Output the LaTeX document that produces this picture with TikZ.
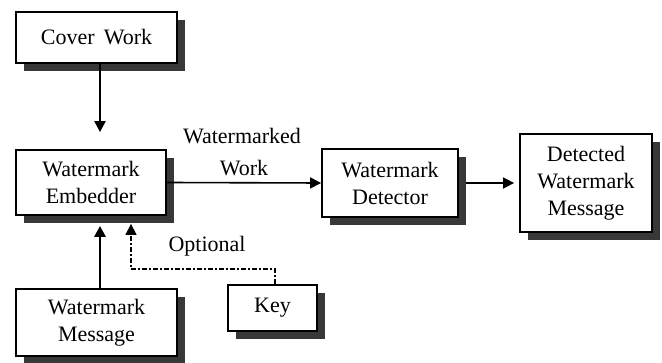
\documentclass[tikz,border=0pt]{standalone}
\usepackage{fontspec}
\setmainfont{Liberation Serif}
\usetikzlibrary{arrows.meta,shadows}
\begin{document}
\begin{tikzpicture}[x=1pt,y=-1pt,
  box/.style={draw=black, line width=1.8pt, fill=white, align=center,
    inner sep=0pt, font=\fontsize{22}{27}\selectfont,
    drop shadow={shadow xshift=8pt, shadow yshift=-8pt, fill=black!78, opacity=1}},
  arr/.style={-{Triangle[length=11pt,width=11pt]}, line width=1.6pt},
  thickarr/.style={-{Triangle[length=11pt,width=11pt]}, line width=2.8pt},
  lbl/.style={font=\fontsize{22}{27}\selectfont, inner sep=0pt}
]
\useasboundingbox (0,0) rectangle (662,363);
\node[box, minimum width=161pt, minimum height=51pt] (cover) at (96.5,37.5) {Cover\, Work};
\node[box, minimum width=150pt, minimum height=65pt] (embed) at (91,182.5) {Watermark\\Embedder};
\node[box, minimum width=136pt, minimum height=68pt] (det) at (390,183) {Watermark\\Detector};
\node[box, minimum width=132pt, minimum height=98pt] (msgout) at (586,183) {Detected\\Watermark\\Message};
\node[box, minimum width=161pt, minimum height=67pt] (msg) at (96.5,322.5) {Watermark\\Message};
\node[box, minimum width=89pt, minimum height=46pt] (key) at (272.5,308) {Key};

\node[lbl] (wmk) at (242,136) {Watermarked};
\node[lbl] (work) at (244,168) {Work};
\node[lbl] (opt) at (207,246) {Optional};

\draw[arr, line width=2.2pt, shorten >=17pt] ([xshift=3.5pt]cover.south) -- ([xshift=9pt]embed.north);
\draw[thickarr, shorten >=10pt] ([xshift=3.5pt]msg.north) -- ([xshift=9pt]embed.south);
\draw[arr] (embed.east) -- (det.west);
\draw[arr, shorten <=7pt, shorten >=5pt] (det.east) -- (msgout.west);
\coordinate (kc1) at ([xshift=2.5pt]key.north |- 0,269);
\coordinate (kc2) at (131,269);
\draw[arr, line width=1.3pt, dash pattern=on 5pt off 2pt on 2pt off 2pt, shorten >=8pt]
  ([xshift=2.5pt]key.north) -- (kc1) -- (kc2) -- (kc2 |- embed.south);
\end{tikzpicture}
\end{document}
